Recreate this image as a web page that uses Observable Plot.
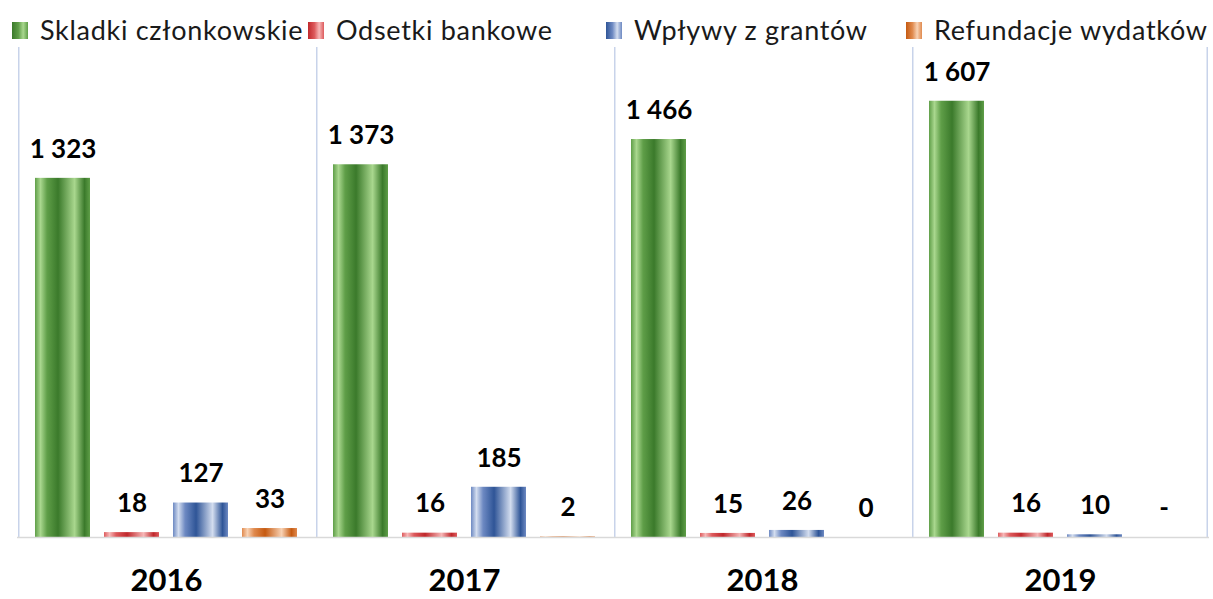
<!DOCTYPE html>
<html>
<head>
<meta charset="utf-8">
<script src="https://cdn.jsdelivr.net/npm/d3@7"></script>
<script src="https://cdn.jsdelivr.net/npm/@observablehq/plot@0.6"></script>
<style>
  html, body { margin: 0; padding: 0; background: #fff; }
  body { width: 1213px; height: 599px; overflow: hidden; font-family: Lato, "Open Sans", sans-serif; }
  #legend { position: relative; height: 47px; }
  .item { position: absolute; top: 10px; height: 40px; line-height: 40px; display: flex; align-items: center; font-size: 27px; letter-spacing: 0.7px; color: #1a1a1a; white-space: nowrap; }
  .sw { width: 16px; height: 17px; margin-right: 12px; }
</style>
</head>
<body>
<svg width="0" height="0" style="position:absolute">
  <defs id="grads"></defs>
</svg>
<div id="legend"></div>
<div id="chart"></div>
<script>
const years = ["2016", "2017", "2018", "2019"];
const series = ["Skladki członkowskie", "Odsetki bankowe", "Wpływy z grantów", "Refundacje wydatków"];
const skladki = [1323, 1373, 1466, 1607];
const odsetki = [18, 16, 15, 16];
const granty = [127, 185, 26, 10];
const refundacje = [33, 2, 0, null];

const palette = [
  {dark: "#3b7a2b", mid: "#5f9e48", light: "#a9d78e"},
  {dark: "#c0282c", mid: "#dd5a5c", light: "#f7b8b8"},
  {dark: "#2f5597", mid: "#6d89c2", light: "#d3ddef"},
  {dark: "#c55a11", mid: "#e08a4e", light: "#f8d2b4"}
];

// gradients
const defs = d3.select("#grads");
palette.forEach((p, i) => {
  const g = defs.append("linearGradient").attr("id", "g" + i).attr("x1", 0).attr("x2", 1).attr("y1", 0).attr("y2", 0);
  [[0, p.mid], [0.1, p.light], [0.22, p.mid], [0.42, p.dark], [0.72, p.light], [0.9, p.dark], [1, p.mid]]
    .forEach(([o, c]) => g.append("stop").attr("offset", o).attr("stop-color", c));
});

// legend
const legendX = [12, 308, 606, 906];
const legend = d3.select("#legend");
series.forEach((s, i) => {
  const it = legend.append("div").attr("class", "item").style("left", legendX[i] + "px");
  it.append("div").attr("class", "sw").style("background", `linear-gradient(to right, ${palette[i].dark}, ${palette[i].mid} 40%, ${palette[i].light} 70%, ${palette[i].mid})`);
  it.append("span").text(s);
});

const cols = [skladki, odsetki, granty, refundacje];
const data = [];
years.forEach((y, yi) => series.forEach((s, si) => data.push({year: y, series: s, value: cols[si][yi]})));

const fmt = d3.formatLocale({thousands: " ", grouping: [3], decimal: ","}).format(",d");
const label = d => d.value == null ? "-" : fmt(d.value);

const W = 1213, H = 552, ML = 16, MR = 3, MB = 62;
const PI = 0.2, PO = 0.232;
const facetW = (W - ML - MR) / years.length;
const step = facetW / (series.length - PI + 2 * PO);
const edge = step * PO + step * (1 - PI) / 2;

const chart = Plot.plot({
  width: W,
  height: H,
  marginLeft: ML,
  marginRight: MR,
  marginTop: 0,
  marginBottom: MB,
  fx: {domain: years, padding: 0, axis: null},
  x: {domain: series, paddingInner: PI, paddingOuter: PO, axis: null},
  y: {domain: [0, 1805], axis: null},
  color: {domain: series, range: series.map((s, i) => `url(#g${i})`)},
  style: {fontFamily: "Lato, 'Open Sans', sans-serif", background: "transparent"},
  marks: [
    Plot.ruleX(years, {fx: d => d, x: () => series[0], dx: -edge, stroke: "#c8d3ea", strokeWidth: 1.5}),
    Plot.ruleX(years.slice(-1), {fx: d => d, x: () => series[series.length - 1], dx: edge - 1, stroke: "#c8d3ea", strokeWidth: 1.5}),
    Plot.barY(data.filter(d => d.value != null && d.value > 0), {fx: "year", x: "series", y: "value", fill: "series"}),
    Plot.ruleY([0], {stroke: "#d9d9d9", strokeWidth: 1.5}),
    Plot.text(data, {fx: "year", x: "series", y: d => d.value ?? 0, text: label, dy: -29, fontSize: 26, fontWeight: "bold", fill: "#000"}),
    Plot.text(years, {fx: d => d, text: d => d, frameAnchor: "bottom", dy: 53, fontSize: 31, fontWeight: "bold", fill: "#000"})
  ]
});
document.getElementById("chart").appendChild(chart);
</script>
</body>
</html>
